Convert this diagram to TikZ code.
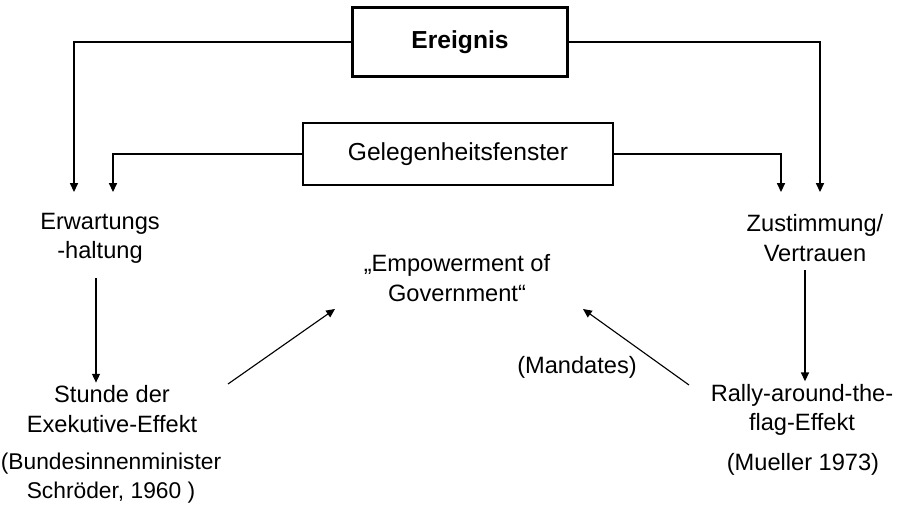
\documentclass[tikz,border=0pt]{standalone}
\usepackage{fontspec}
\setmainfont{Liberation Sans}
\usetikzlibrary{arrows.meta, positioning}

\begin{document}
\begin{tikzpicture}[
    % GLOBAL CFG
    x=0.025cm, y=-0.025cm,
    font=\fontsize{16.8}{20.8}\selectfont,
    >={Triangle[length=2.2mm, width=2mm]},
    % Styles
    event/.style={% the main box on top
        rectangle,
        draw,
        line width=1.8pt,
        minimum width=5.375cm,
        minimum height=1.725cm,
        font=\fontsize{17.5}{20.8}\selectfont\bfseries,
        },
    window/.style={% the second box
        rectangle,
        draw,
        line width=1.5pt,
        minimum width=7.75cm,
        minimum height=1.55cm,
        font=\fontsize{17.5}{20.8}\selectfont,
        },
    txt/.style={% free text
        align=center,
        inner sep=2pt,
        },
    link/.style={% connectors
        line width=0.8pt,
        },
    ]

    \useasboundingbox (0,0) rectangle (900,505);

    % Draw the boxes
    \node [event] (ereignis) at (460,42) {Ereignis};
    \node [window] (fenster) at (458,154) {Gelegenheitsfenster};

    % Draw the texts
    \node [txt] (erwartung) at (100,238) {Erwartungs\\-haltung};
    \node [txt] (zustimmung) at (815,238) {Zustimmung/\\Vertrauen};
    \node [txt] (empower) at (457,278) {„Empowerment of\\Government“};
    \node [txt] (stunde) at (112,409) {Stunde der\\Exekutive-Effekt};
    \node [txt] (rally) at (802,410) {Rally-around-the-\\flag-Effekt};
    \node [txt, font=\fontsize{16.2}{20.8}\selectfont] (schroeder) at (111,478) {(Bundesinnenminister\\Schröder, 1960 )};
    \node [txt] (mueller) at (803,464) {(Mueller 1973)};
    \node [txt] (mandates) at (577,367) {(Mandates)};

    % Arrow ends and starts near the texts
    \coordinate (erwL) at (74,192);
    \coordinate (erwR) at (113,192);
    \coordinate (zusL) at (781,192);
    \coordinate (zusR) at (820,192);
    \coordinate (erwS) at (96,278);
    \coordinate (zusS) at (805,270);
    \coordinate (stundeNE) at (228,384);
    \coordinate (rallyNW) at (689,385);
    \coordinate (empSW) at (335,309);
    \coordinate (empSE) at (583,309);

    % Connect all
    \draw [->, link] (ereignis.west) -| (erwL);
    \draw [->, link] (ereignis.east) -| (zusR);
    \draw [->, link] (fenster.west) -| (erwR);
    \draw [->, link] (fenster.east) -| (zusL);

    \draw [->, link] (erwS) -- (erwS |- stunde.north);
    \draw [->, link] (zusS) -- (zusS |- rally.north);

    \draw [->, link] (stundeNE) -- (empSW);
    \draw [->, link] (rallyNW) -- (empSE);

\end{tikzpicture}
\end{document}
